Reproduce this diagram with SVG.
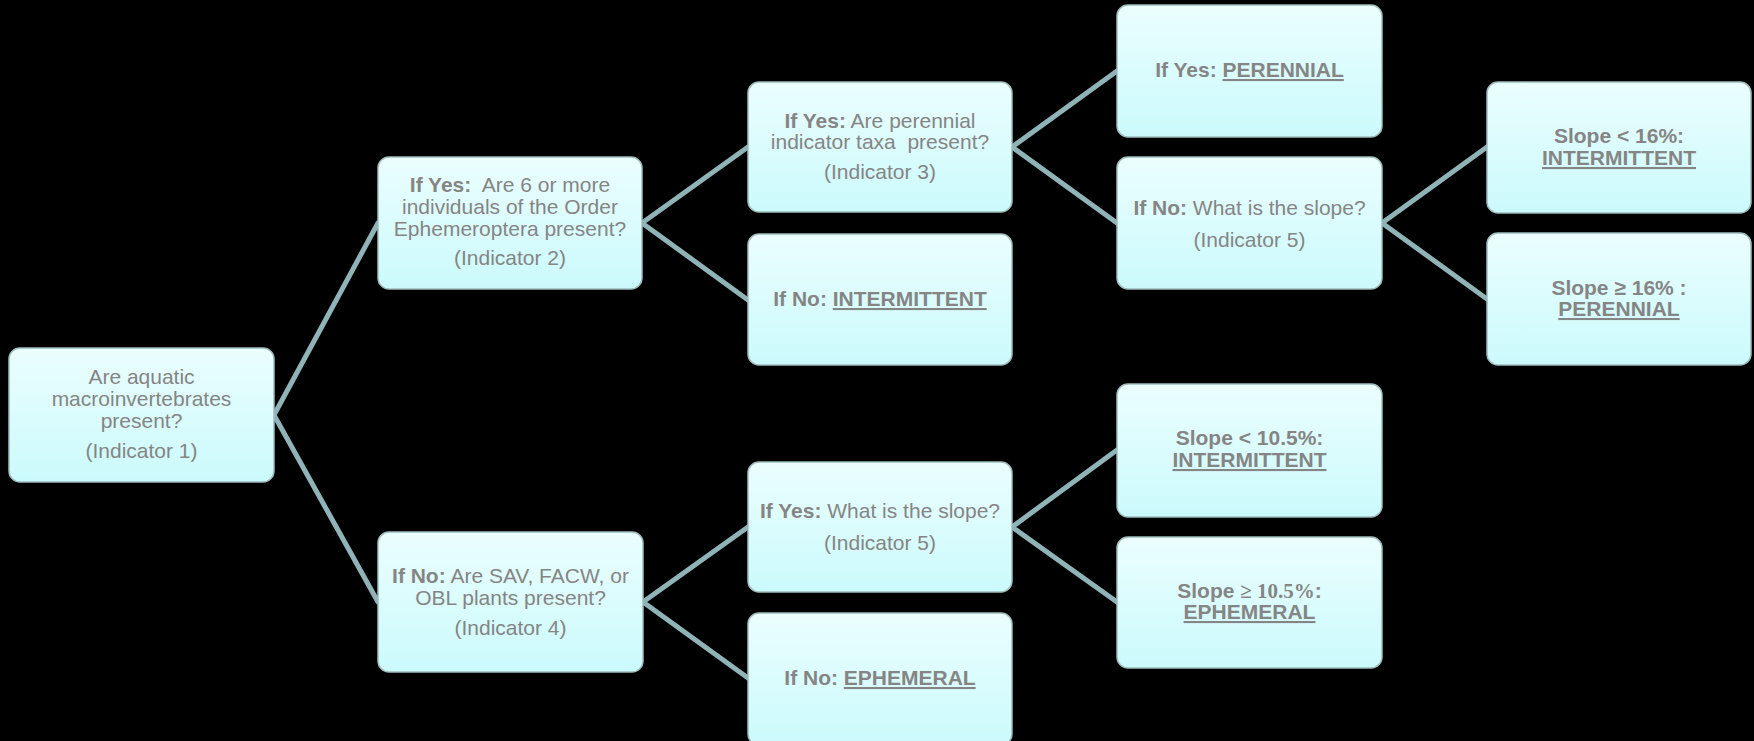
<svg xmlns="http://www.w3.org/2000/svg" width="1754" height="741" viewBox="0 0 1754 741">
<style>
.box{fill:url(#g);stroke:#9fbcbc;stroke-width:1.5}
.t{font-family:"Liberation Sans",Arial,sans-serif;font-size:21px;fill:#858585;text-anchor:middle;white-space:pre}
.b{font-weight:bold}
.u{text-decoration:underline}
.sf{font-family:"Liberation Serif","Times New Roman",serif}
.c{stroke:#8fb3b6;stroke-width:5;fill:none;stroke-linecap:round;stroke-linejoin:round}
</style>
<defs>
<linearGradient id="g" x1="0" y1="0" x2="0" y2="1">
<stop offset="0" stop-color="#ebfefe"/>
<stop offset="1" stop-color="#cbfafc"/>
</linearGradient>
</defs>
<rect width="1754" height="741" fill="#000"/>
<g id="connectors">
<polyline class="c" points="378,223 274,415 378,602"/>
<polyline class="c" points="748,147 642,223 748,300"/>
<polyline class="c" points="748,527 643,602 748,678"/>
<polyline class="c" points="1117,71 1012,147 1117,223"/>
<polyline class="c" points="1117,450 1012,527 1117,602"/>
<polyline class="c" points="1487,147 1382,223 1487,299"/>
</g>
<g id="n1">
<rect class="box" x="9" y="348" width="265" height="134" rx="11"/>
<text class="t" x="141.5" y="384">Are aquatic</text>
<text class="t" x="141.5" y="406">macroinvertebrates</text>
<text class="t" x="141.5" y="428">present?</text>
<text class="t" x="141.5" y="458">(Indicator 1)</text>
</g>
<g id="n2">
<rect class="box" x="378" y="157" width="264" height="132" rx="11"/>
<text class="t" x="510" y="192"><tspan class="b">If Yes:</tspan>  Are 6 or more</text>
<text class="t" x="510" y="214">individuals of the Order</text>
<text class="t" x="510" y="236">Ephemeroptera present?</text>
<text class="t" x="510" y="265">(Indicator 2)</text>
</g>
<g id="n3">
<rect class="box" x="378" y="532" width="265" height="140" rx="11"/>
<text class="t" x="510.5" y="583"><tspan class="b">If No:</tspan> Are SAV, FACW, or</text>
<text class="t" x="510.5" y="605">OBL plants present?</text>
<text class="t" x="510.5" y="635">(Indicator 4)</text>
</g>
<g id="n4">
<rect class="box" x="748" y="82" width="264" height="130" rx="11"/>
<text class="t" x="880" y="128"><tspan class="b">If Yes:</tspan> Are perennial</text>
<text class="t" x="880" y="149">indicator taxa  present?</text>
<text class="t" x="880" y="179">(Indicator 3)</text>
</g>
<g id="n5">
<rect class="box" x="748" y="234" width="264" height="131" rx="11"/>
<text class="t b" x="880" y="306">If No: <tspan class="u">INTERMITTENT</tspan></text>
</g>
<g id="n6">
<rect class="box" x="748" y="462" width="264" height="130" rx="11"/>
<text class="t" x="880" y="518"><tspan class="b">If Yes:</tspan> What is the slope?</text>
<text class="t" x="880" y="550">(Indicator 5)</text>
</g>
<g id="n7">
<rect class="box" x="748" y="613" width="264" height="132" rx="11"/>
<text class="t b" x="880" y="685">If No: <tspan class="u">EPHEMERAL</tspan></text>
</g>
<g id="n8">
<rect class="box" x="1117" y="5" width="265" height="132" rx="11"/>
<text class="t b" x="1249.5" y="77">If Yes: <tspan class="u">PERENNIAL</tspan></text>
</g>
<g id="n9">
<rect class="box" x="1117" y="157" width="265" height="132" rx="11"/>
<text class="t" x="1249.5" y="215"><tspan class="b">If No:</tspan> What is the slope?</text>
<text class="t" x="1249.5" y="247">(Indicator 5)</text>
</g>
<g id="n10">
<rect class="box" x="1117" y="384" width="265" height="133" rx="11"/>
<text class="t b" x="1249.5" y="445">Slope &lt; 10.5%:</text>
<text class="t b u" x="1249.5" y="467">INTERMITTENT</text>
</g>
<g id="n11">
<rect class="box" x="1117" y="537" width="265" height="131" rx="11"/>
<text class="t b" x="1249.5" y="598">Slope <tspan class="sf">≥ 10.5%</tspan>:</text>
<text class="t b u" x="1249.5" y="619">EPHEMERAL</text>
</g>
<g id="n12">
<rect class="box" x="1487" y="82" width="264" height="131" rx="11"/>
<text class="t b" x="1619" y="143">Slope &lt; 16%:</text>
<text class="t b u" x="1619" y="165">INTERMITTENT</text>
</g>
<g id="n13">
<rect class="box" x="1487" y="233" width="264" height="132" rx="11"/>
<text class="t b" x="1619" y="295">Slope ≥ 16% :</text>
<text class="t b u" x="1619" y="316">PERENNIAL</text>
</g>
</svg>
